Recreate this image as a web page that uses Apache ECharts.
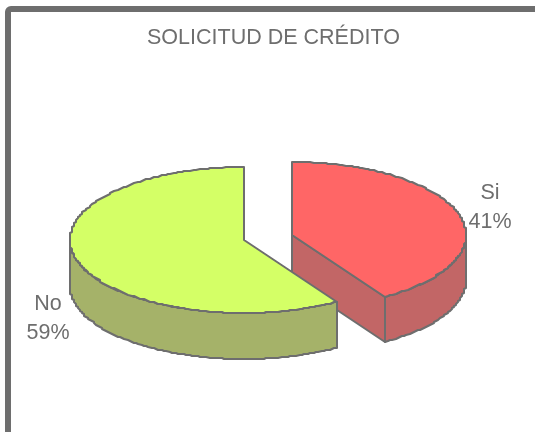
<!DOCTYPE html>
<html><head><meta charset="utf-8">
<style>html,body{margin:0;padding:0;background:#fff}#c{width:535px;height:432px}</style>
<script src="https://cdn.jsdelivr.net/npm/echarts@6/dist/echarts.min.js"></script>
</head><body><div id="c"></div>
<script>
const categories = ['Si', 'No'];
const values = [41, 59];
const topColors = ['#FF6666', '#D4FF66'];
const sideColors = ['#C26666', '#A5B269'];
const titleText = 'SOLICITUD DE CRÉDITO';

const RX = 174, RY = 73, EDGE = '#6E6E6E';
const DEPTHS = [45, 46];
const apex = [[292, 235], [244, 240]];
const labelAt = [[490, 208], [48, 319]];
const FONT = '21.5px "Liberation Sans", Arial, sans-serif';
const total = values.reduce((a, b) => a + b, 0);
const sum = (n) => values.slice(0, n).reduce((a, b) => a + b, 0);

function pt(c, deg, dz, snap) {
  const r = deg * Math.PI / 180;
  const x = c[0] + RX * Math.sin(r), y = c[1] - RY * Math.cos(r) + (dz || 0);
  return snap ? [Math.round(x / 2) * 2, Math.round(y)] : [Math.round(x), Math.round(y)];
}
function arc(c, a0, a1, dz) {
  const out = [pt(c, a0, dz)];
  const n = Math.max(2, Math.ceil(Math.abs(a1 - a0)));
  for (let i = 1; i < n; i++) {
    const p = pt(c, a0 + (a1 - a0) * i / n, dz, true);
    const last = out[out.length - 1];
    if (p[0] !== last[0] || p[1] !== last[1]) out.push(p);
  }
  out.push(pt(c, a1, dz));
  return out;
}
function poly(points, fill) {
  return { type: 'polygon', shape: { points }, style: { fill, stroke: EDGE, lineWidth: 2, lineJoin: 'round' } };
}
function renderItem(params, api) {
  const i = params.dataIndex;
  const start = sum(i) / total * 360;
  const end = sum(i + 1) / total * 360;
  const c = apex[i];
  const d = DEPTHS[i];
  const kids = [];
  const frontFrom = Math.max(start, 90), frontTo = Math.min(end, 270);
  if (i === 0) {
    kids.push(poly([c, pt(c, end), pt(c, end, d), [c[0], c[1] + d]], sideColors[i]));
  }
  kids.push(poly(arc(c, frontFrom, frontTo).concat(arc(c, frontTo, frontFrom, d)), sideColors[i]));
  kids.push(poly([c].concat(arc(c, start, end)), topColors[i]));
  kids.push({
    type: 'text',
    style: {
      x: labelAt[i][0], y: labelAt[i][1],
      text: categories[i] + '\n' + Math.round(values[i] / total * 100) + '%',
      fill: EDGE, font: FONT,
      align: 'center', verticalAlign: 'middle', lineHeight: 29
    }
  });
  return { type: 'group', children: kids };
}
const chart = echarts.init(document.getElementById('c'), null, { renderer: 'canvas' });
chart.setOption({
  animation: false,
  backgroundColor: '#fff',
  title: {
    text: titleText, left: 142, top: 22,
    textStyle: { color: EDGE, fontWeight: 'normal', fontSize: 21.5, fontFamily: '"Liberation Sans", Arial, sans-serif' }
  },
  graphic: [{
    type: 'rect', z: -1, silent: true,
    shape: { x: 8, y: 9, width: 540, height: 440, r: 3 },
    style: { fill: '#fff', stroke: EDGE, lineWidth: 6 }
  }],
  series: [{
    type: 'custom', coordinateSystem: 'none', renderItem,
    data: categories.map((name, i) => ({ name, value: values[i] }))
  }]
});
</script></body></html>
